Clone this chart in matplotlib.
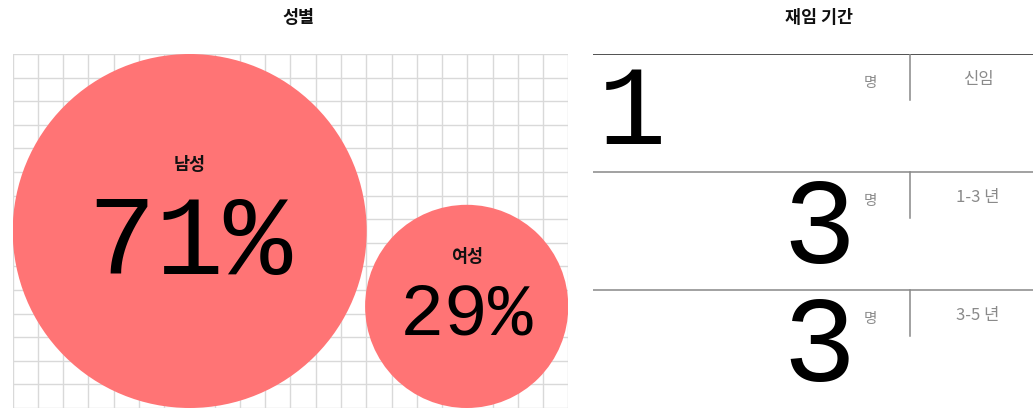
import numpy as np
import matplotlib.pyplot as plt
from matplotlib.patches import Circle

plt.rcParams['font.family'] = ['Noto Sans CJK KR', 'DejaVu Sans']

# data
gender_title = "성별"
genders = ["남성", "여성"]
gender_share = [71, 29]

tenure_title = "재임 기간"
tenure_groups = ["신임", "1-3 년", "3-5 년"]
tenure_counts = [1, 3, 3]
count_unit = "명"

CIRCLE_COLOR = "#ff7475"
GRID_COLOR = "#d9d9d9"
GRAY_TEXT = "#8a8a8a"
NUM_FONT = "Liberation Mono"

W, H = 1033, 408
fig = plt.figure(figsize=(W / 100, H / 100), dpi=100)

# ---- left panel: bubbles on a grid ----
gx0, gx1, gy0 = 12.7, 568.3, 54
gw, gh = gx1 - gx0, H - gy0
ax = fig.add_axes([gx0 / W, 0, gw / W, gh / H])
ax.set_xlim(0, gw)
ax.set_ylim(gh, 0)
ax.axis("off")

n_cols, n_rows = 22, 15
for i in range(n_cols + 1):
    ax.axvline(i * gw / n_cols, color=GRID_COLOR, lw=1.0, zorder=0)
for j in range(n_rows + 1):
    ax.axhline(j * gh / n_rows, color=GRID_COLOR, lw=1.0, zorder=0)

vmax = max(gender_share)
r_max = gh / 2
radii = [r_max * (v / vmax) ** 0.62 for v in gender_share]
# big bubble top-left, small bubble bottom-right
centers = [(radii[0], radii[0]), (gw - radii[1], gh - radii[1])]

for name, v, r, (cx, cy) in zip(genders, gender_share, radii, centers):
    ax.add_patch(Circle((cx, cy), r, color=CIRCLE_COLOR, lw=0, zorder=2))
    fs = 82 * (v / vmax) ** 0.48
    fs_px = fs * 100 / 72
    base = cy + 0.377 * fs_px
    ax.text(cx, base, f"{v}%", ha="center", va="baseline", fontsize=fs,
            family=NUM_FONT, color="black", zorder=3)
    ax.text(cx, base - 0.72 * fs_px - (14 + 0.045 * r), name, ha="center",
            va="baseline", fontsize=12.5, fontweight="bold",
            color="#111111", zorder=3)

fig.text(298 / W, 1 - 18 / H, gender_title, ha="center", va="center",
         fontsize=12.5, fontweight="bold", color="#111111")

# ---- right panel: tenure counts ----
rx0 = 593
rw = W - rx0
ax2 = fig.add_axes([rx0 / W, 0, rw / W, gh / H])
ax2.set_xlim(0, rw)
ax2.set_ylim(gh, 0)
ax2.axis("off")

row_h = 118
div_x = 316.5
for i, (grp, n) in enumerate(zip(tenure_groups, tenure_counts)):
    top = i * row_h
    ax2.axhline(top, color="#222222" if i == 0 else "#888888",
                lw=1.1, zorder=1)
    ax2.plot([div_x, div_x], [top, top + 46], color="#888888", lw=1.1)
    num_x = -22 + 95 * n
    ax2.text(num_x, top + 90.5, str(n), ha="right", va="baseline",
             fontsize=79 + 3 * n, family=NUM_FONT, color="black")
    ax2.text(277, top + 28.5, count_unit, ha="center", va="center",
             fontsize=10.5, color=GRAY_TEXT)
    ax2.text(385, top + 25.5, grp, ha="center", va="center",
             fontsize=12, color=GRAY_TEXT)

fig.text(819 / W, 1 - 18 / H, tenure_title, ha="center", va="center",
         fontsize=12.5, fontweight="bold", color="#111111")

fig.savefig("out.png", dpi=100)
